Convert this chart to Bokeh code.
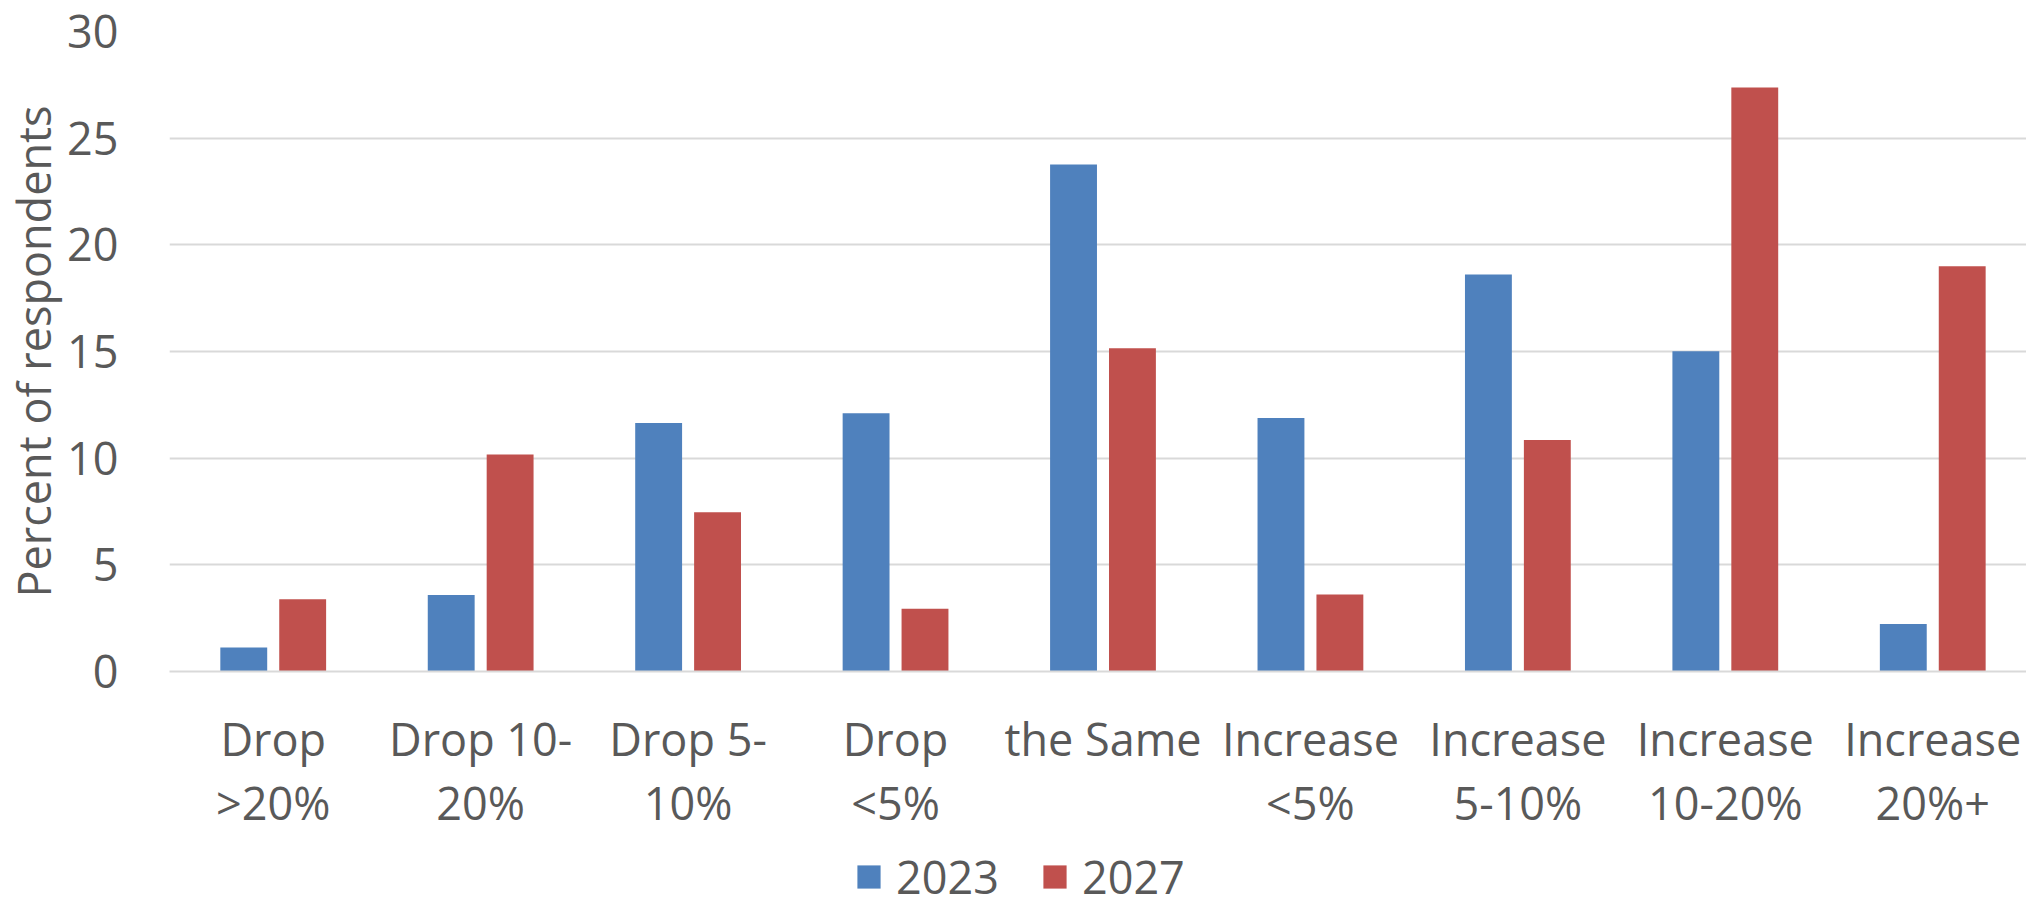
import numpy as np
from bokeh.plotting import figure
from bokeh.layouts import column
from bokeh.models import ColumnDataSource, Range1d, FixedTicker, Legend, LegendItem
from bokeh.embed import file_html
from bokeh.resources import INLINE

# ---- data ----
categories = ["Drop\n>20%", "Drop 10-\n20%", "Drop 5-\n10%", "Drop\n<5%", "the Same",
              "Increase\n<5%", "Increase\n5-10%", "Increase\n10-20%", "Increase\n20%+"]
values_2023 = [1.12, 3.59, 11.65, 12.11, 23.76, 11.88, 18.61, 15.01, 2.23]
values_2027 = [3.39, 10.17, 7.46, 2.94, 15.15, 3.61, 10.85, 27.37, 19.00]
series_names = ["2023", "2027"]
y_ticks = [0, 5, 10, 15, 20, 25, 30]
y_label = "Percent of respondents"

# ---- styling ----
FONT = "Open Sans"
TEXT_COLOR = "#595959"
GRID_COLOR = "#D9D9D9"
COLORS = ["#4F81BD", "#C0504D"]
FS = "45px"

n = len(categories)
centers = np.arange(n) + 0.5
offset = 0.142
bar_w = 0.226

src = ColumnDataSource(data=dict(
    x23=centers - offset, x27=centers + offset,
    v23=values_2023, v27=values_2027,
))

W = 2026
H_MAIN, H_LEG = 836, 71
left, top = 164, 31
bottom = H_MAIN - 675
frame_w = W - left
x_end = frame_w / 208.0

p = figure(width=W, height=H_MAIN, x_range=Range1d(0, x_end), y_range=Range1d(0, 30),
           output_backend="svg", toolbar_location=None,
           min_border_left=left, min_border_right=0, min_border_top=top,
           min_border_bottom=bottom)

r1 = p.vbar(x="x23", top="v23", width=bar_w, source=src, fill_color=COLORS[0], line_color=None)
r2 = p.vbar(x="x27", top="v27", width=bar_w, source=src, fill_color=COLORS[1], line_color=None)

p.outline_line_color = None
p.background_fill_color = "white"
p.border_fill_color = "white"

# x axis
p.xgrid.grid_line_color = None
p.xaxis.ticker = FixedTicker(ticks=list(centers))
p.xaxis.major_label_overrides = {float(c): lab for c, lab in zip(centers, categories)}
p.xaxis.axis_line_color = GRID_COLOR
p.xaxis.axis_line_width = 2
p.xaxis.major_tick_line_color = None
p.xaxis.minor_tick_line_color = None
p.xaxis.major_label_text_font = FONT
p.xaxis.major_label_text_font_size = FS
p.xaxis.major_label_text_color = TEXT_COLOR
p.xaxis.major_label_text_line_height = 1.06
p.xaxis.major_label_standoff = 30

# y axis
p.yaxis.ticker = FixedTicker(ticks=y_ticks)
p.yaxis.axis_line_color = None
p.yaxis.major_tick_line_color = None
p.yaxis.minor_tick_line_color = None
p.yaxis.major_label_text_font = FONT
p.yaxis.major_label_text_font_size = FS
p.yaxis.major_label_text_color = TEXT_COLOR
p.yaxis.major_label_standoff = 45
p.yaxis.axis_label = y_label
p.yaxis.axis_label_text_font = FONT
p.yaxis.axis_label_text_font_size = FS
p.yaxis.axis_label_text_font_style = "normal"
p.yaxis.axis_label_text_color = TEXT_COLOR
p.yaxis.axis_label_standoff = 0
p.ygrid.grid_line_color = GRID_COLOR
p.ygrid.grid_line_width = 2

# ---- legend strip (its frame is aligned with the main frame by the column) ----
lg = figure(width=W, height=H_LEG, x_range=Range1d(0, 1), y_range=Range1d(0, 1),
            output_backend="svg", toolbar_location=None,
            x_axis_type=None, y_axis_type=None,
            min_border_left=0, min_border_right=0, min_border_top=0, min_border_bottom=0)
lg.outline_line_color = None
lg.xgrid.grid_line_color = None
lg.ygrid.grid_line_color = None
# legend swatches: renderers whose single bar lies outside the strip's visible range
l1 = lg.vbar(x=[-5], top=[-5], width=0.1, fill_color=COLORS[0], line_color=None)
l2 = lg.vbar(x=[-5], top=[-5], width=0.1, fill_color=COLORS[1], line_color=None)

legend = Legend(items=[LegendItem(label=series_names[0], renderers=[l1]),
                       LegendItem(label=series_names[1], renderers=[l2])],
                orientation="horizontal", location=(685, 0))
legend.label_text_font = FONT
legend.label_text_font_size = FS
legend.label_text_color = TEXT_COLOR
legend.glyph_width = 29
legend.glyph_height = 29
legend.label_standoff = 13
legend.spacing = 41
legend.padding = 0
legend.margin = 0
legend.border_line_color = None
legend.background_fill_alpha = 0
lg.add_layout(legend)

layout = column(p, lg, spacing=0)
open("out.html", "w").write(file_html(layout, INLINE))
